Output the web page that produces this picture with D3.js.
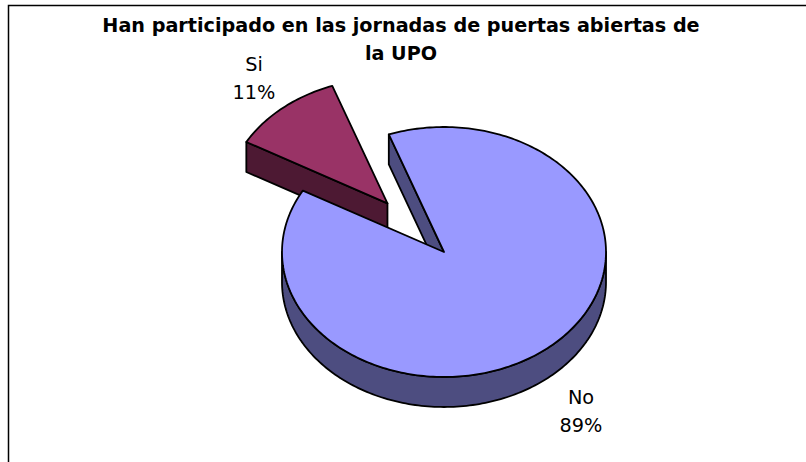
<!DOCTYPE html>
<html><head><meta charset="utf-8">
<script src="https://cdn.jsdelivr.net/npm/d3@7"></script>
<style>html,body{margin:0;padding:0;background:#fff}svg{display:block}text{font-family:"DejaVu Sans",sans-serif;fill:#000}</style>
</head><body><svg id="c" width="806" height="462"></svg>
<script>
const categories = ["Si", "No"];
const values = [11.3, 88.7];
const percentLabels = ["11%", "89%"];
const topColors = ["#993366", "#9999FF"];
const sideColors = ["#4D1933", "#4D4D80"];
const titleLines = ["Han participado en las jornadas de puertas abiertas de", "la UPO"];

const W = 806, H = 462;
const cx = 444, cy = 252, rx = 162, ry = 125, depth = 30;
const explodeX = [0.54, 0], explodeY = [0.51, 0];
const svg = d3.select("#c");

svg.append("path").attr("d", `M8.5,${H}V5.5H${W}`)
  .attr("fill", "none").attr("stroke", "#000").attr("stroke-width", 1.5);

const start = -60.6 * Math.PI / 180;
const pie = d3.pie().sort(null).startAngle(start).endAngle(start + 2 * Math.PI);
const arcs = pie(values);
const pt = (a) => [rx * Math.sin(a), -ry * Math.cos(a)];
const line = d3.line();

function arcPoints(a0, a1, dy = 0) {
  const n = Math.max(2, Math.ceil(Math.abs(a1 - a0) / 0.02));
  return d3.range(n + 1).map(i => {
    const [x, y] = pt(a0 + (a1 - a0) * i / n);
    return [x, y + dy];
  });
}
const draw = (g, pts, fill) => g.append("path").attr("d", line(pts) + "Z")
  .attr("fill", fill).attr("stroke", "#000").attr("stroke-width", 1.8).attr("stroke-linejoin", "round");

function slice(i) {
  const d = arcs[i], mid = (d.startAngle + d.endAngle) / 2;
  const [mx, my] = pt(mid);
  const g = svg.append("g").attr("transform", `translate(${cx + mx * explodeX[i]},${cy + my * explodeY[i]})`);
  return { g, d };
}

// Si: walls then top
{
  const { g, d } = slice(0);
  const p = pt(d.startAngle);
  draw(g, [p, [0, 0], [0, depth], [p[0], p[1] + depth]], sideColors[0]);
  draw(g, [[0, 0], ...arcPoints(d.startAngle, d.endAngle)], topColors[0]);
}
// No: walls, rim then top
{
  const { g, d } = slice(1);
  const p = pt(d.startAngle);
  draw(g, [p, [0, 0], [0, depth], [p[0], p[1] + depth]], sideColors[1]);
  const a0 = Math.PI / 2, a1 = 3 * Math.PI / 2;
  draw(g, [...arcPoints(a0, a1), ...arcPoints(a1, a0, depth)], sideColors[1]);
  draw(g, [[0, 0], ...arcPoints(d.startAngle, d.endAngle)], topColors[1]);
}

// Title
svg.append("g").selectAll("text").data(titleLines).join("text")
  .attr("x", 401).attr("y", (d, i) => 32 + i * 28)
  .attr("text-anchor", "middle").attr("font-weight", "bold").attr("font-size", 19.2).text(d => d);

// Labels
const labelPos = [[254, 70.5], [581, 404]];
categories.forEach((c, i) => {
  const t = svg.append("text").attr("text-anchor", "middle").attr("font-size", 19.3);
  t.append("tspan").attr("x", labelPos[i][0]).attr("y", labelPos[i][1]).text(c);
  t.append("tspan").attr("x", labelPos[i][0]).attr("y", labelPos[i][1] + 28).text(percentLabels[i]);
});
</script></body></html>
